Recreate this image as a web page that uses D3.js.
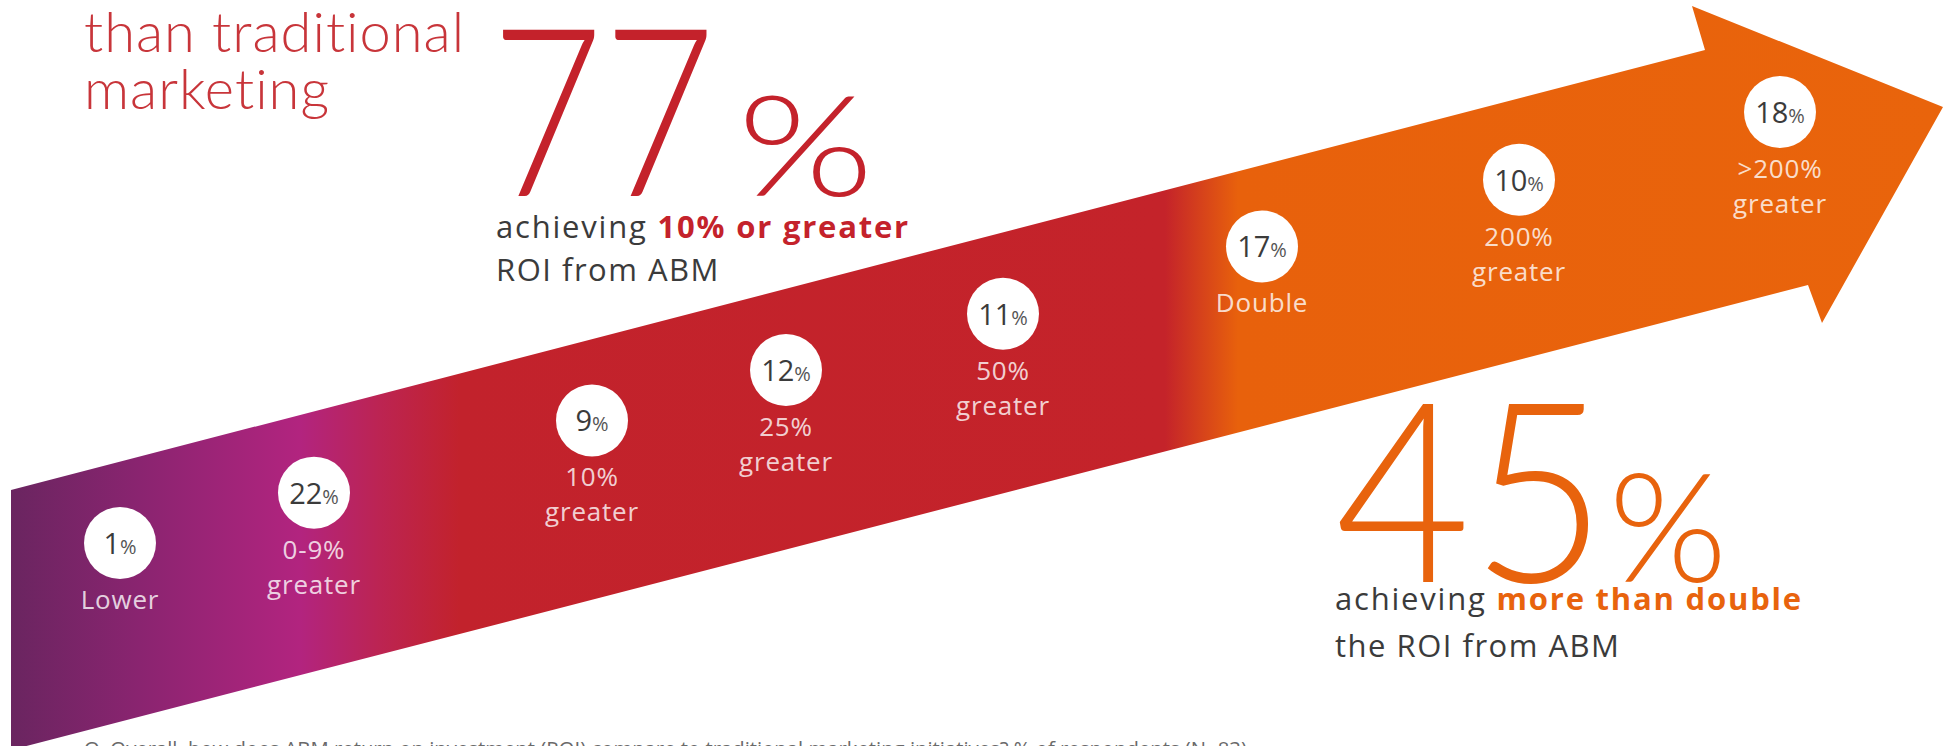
<!DOCTYPE html>
<html>
<head>
<meta charset="utf-8">
<script src="https://cdn.jsdelivr.net/npm/d3@7"></script>
<style>
  html, body { margin: 0; padding: 0; background: #fff; }
  svg { display: block; }
</style>
</head>
<body>
<div id="chart"></div>
<script>

// ROI buckets along the arrow, left to right
var categories = ['Lower', '0-9% greater', '10% greater', '25% greater', '50% greater', 'Double', '200% greater', '>200% greater'];
var labelLines = [['Lower'], ['0-9%', 'greater'], ['10%', 'greater'], ['25%', 'greater'], ['50%', 'greater'], ['Double'], ['200%', 'greater'], ['>200%', 'greater']];
var shares = [1, 22, 9, 12, 11, 17, 10, 18];

// headline figures
var headValues = [77, 45];
var headLead = ['achieving ', 'achieving '];
var headStrong = ['10% or greater', 'more than double'];
var headTail = ['ROI from ABM', 'the ROI from ABM'];

var titleLines = ['than traditional', 'marketing'];
var footnote = 'Q. Overall, how does ABM return on investment (ROI) compare to traditional marketing initiatives? % of respondents (N=83)';

var width = 1943;
var height = 746;

var red = '#c4222b';
var orange = '#e8630d';
var dark = '#3b3b3b';
var label_font = '"Open Sans", "Noto Sans", sans-serif';
var thin_font = 'Lato, "Open Sans", sans-serif';

var svg = d3.select('#chart')
  .append('svg')
  .attr('width', width)
  .attr('height', height);

var defs = svg.append('defs');

// colour runs purple -> magenta -> red -> orange along x
var grad = defs.append('linearGradient')
  .attr('id', 'arrow_grad')
  .attr('gradientUnits', 'userSpaceOnUse')
  .attr('x1', 11).attr('y1', 0)
  .attr('x2', 1943).attr('y2', 0);

grad.selectAll('stop')
  .data([
    [11, '#6a2560'],
    [140, '#8a2470'],
    [300, '#b2247f'],
    [380, '#bc2452'],
    [460, '#c2222c'],
    [1165, '#c4232a'],
    [1238, '#e8610c'],
    [1943, '#e9640c']])
  .enter()
  .append('stop')
  .attr('offset', function(d){ return (d[0] - 11) / (1943 - 11); })
  .attr('stop-color', function(d){ return d[1]; });

// arrow outline
var arrow_pts = [
  [11, 490],
  [1705, 50],
  [1692, 6],
  [1943, 107],
  [1822, 323],
  [1808, 285],
  [11, 750]
];

svg.append('path')
  .attr('class', 'arrow')
  .attr('d', d3.line()(arrow_pts) + 'Z')
  .style('fill', 'url(#arrow_grad)');

// positions of the buckets along the arrow
var x = d3.scaleOrdinal()
  .domain(categories)
  .range([120, 314, 592, 786, 1003, 1262, 1519, 1780]);

var y = d3.scaleLinear()
  .domain([120, 1780])
  .range([543, 112]);

var r = 36;

var step = svg.append('g')
  .classed('steps', true)
  .selectAll('g')
  .data(categories)
  .enter()
  .append('g')
  .attr('transform', function(d){
    return 'translate(' + x(d) + ', ' + y(x(d)) + ')';
  });

step.append('circle')
  .attr('r', r)
  .style('fill', '#fff');

var val_text = step.append('text')
  .style('font-family', label_font)
  .style('font-size', '29px')
  .style('fill', dark)
  .style('text-anchor', 'middle')
  .attr('y', 11);

val_text.append('tspan')
  .text(function(d, i){ return shares[i]; });

val_text.append('tspan')
  .style('font-size', '20px')
  .style('fill', '#555')
  .text('%');

step.each(function(d, i){
  d3.select(this)
    .selectAll('text.step_label')
    .data(labelLines[i])
    .enter()
    .append('text')
    .classed('step_label', true)
    .attr('y', function(t, j){ return 66 + j * 35; })
    .style('font-family', label_font)
    .style('font-size', '26px')
    .style('letter-spacing', '0.8px')
    .style('text-anchor', 'middle')
    .style('fill', '#fff')
    .style('fill-opacity', 0.8)
    .text(function(t){ return t; });
});

// title fragment top left
svg.append('g')
  .selectAll('text')
  .data(titleLines)
  .enter()
  .append('text')
  .attr('x', 84)
  .attr('y', function(d, i){ return 52 + i * 57; })
  .style('font-family', thin_font)
  .style('font-weight', 300)
  .style('font-size', '56px')
  .style('letter-spacing', '1px')
  .style('fill', '#c8353a')
  .text(function(d){ return d; });

// headline blocks: x, baseline, colour, digit size, digit squeeze, % size, gap,
// lead dy, tail dy, % stretch, caption dx
var head_pos = [
  [491, 196, red, 236, 0.82, 140, 22, 42, 85, 1.25, 5],
  [1335, 582, orange, 252, 0.93, 152, 2, 28, 75, 1.0, 0]
];

var head = svg.append('g')
  .selectAll('g')
  .data(headValues)
  .enter()
  .append('g')
  .attr('transform', function(d, i){
    return 'translate(' + head_pos[i][0] + ', ' + head_pos[i][1] + ')';
  });

head.each(function(d, i){
  var p = head_pos[i];
  var g = d3.select(this);

  var digits = g.append('text')
    .attr('transform', 'scale(' + p[4] + ', 1)')
    .style('font-family', thin_font)
    .style('font-weight', 300)
    .style('font-size', p[3] + 'px')
    .style('fill', p[2])
    .text(d);

  var w = digits.node().getComputedTextLength() * p[4];

  g.append('text')
    .attr('transform', 'translate(' + (w + p[6]) + ', 0) scale(' + p[9] + ', 1)')
    .style('font-family', thin_font)
    .style('font-weight', 300)
    .style('font-size', p[5] + 'px')
    .style('fill', p[2])
    .text('%');

  var lead = g.append('text')
    .attr('x', p[10])
    .attr('y', p[7])
    .style('font-family', label_font)
    .style('font-size', '31px')
    .style('letter-spacing', '1.8px')
    .style('fill', dark);

  lead.append('tspan')
    .text(headLead[i]);

  lead.append('tspan')
    .style('font-weight', 700)
    .style('fill', p[2])
    .text(headStrong[i]);

  g.append('text')
    .attr('x', p[10])
    .attr('y', p[8])
    .style('font-family', label_font)
    .style('font-size', '31px')
    .style('letter-spacing', '1.5px')
    .style('fill', dark)
    .text(headTail[i]);
});

// source line, cut at the bottom edge
svg.append('text')
  .attr('x', 84)
  .attr('y', 756)
  .style('font-family', label_font)
  .style('font-size', '20.3px')
  .style('fill', '#6a6a6a')
  .text(footnote);

</script>
</body>
</html>
